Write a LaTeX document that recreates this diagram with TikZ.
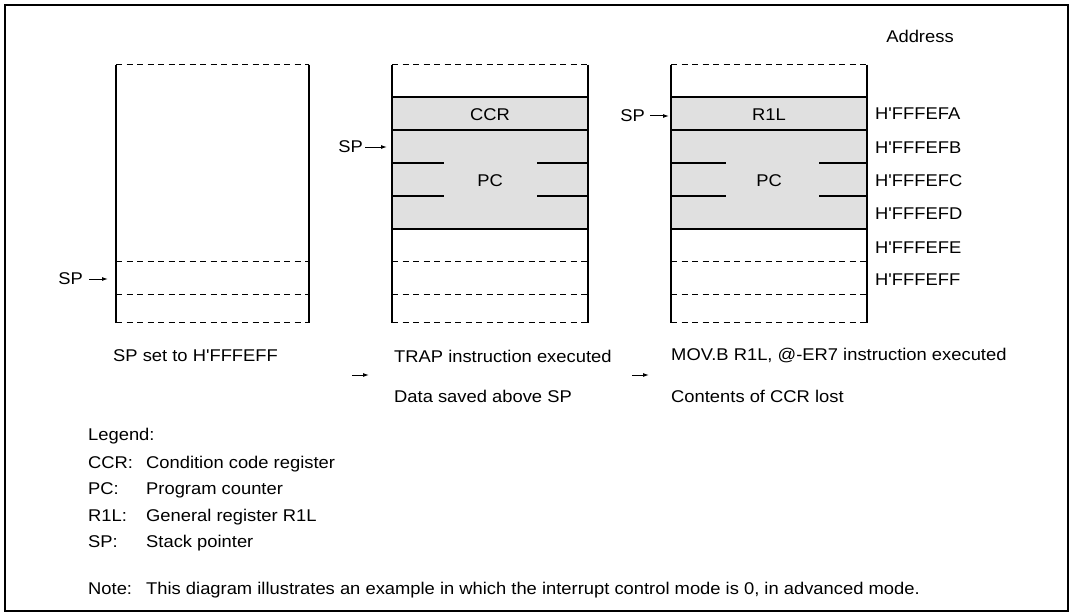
\documentclass[tikz,border=0pt]{standalone}
\usepackage{fontspec}
\setmainfont{Liberation Sans}[Ligatures=TeXOff, FakeStretch=1.08]
\usetikzlibrary{arrows.meta}
\begin{document}
\begin{tikzpicture}[x=1pt,y=-1pt,
  txt/.style={inner sep=0pt, font=\fontsize{17}{20}\selectfont},
  side/.style={line width=2.6pt},
  rowline/.style={line width=1.2pt},
  dsh/.style={line width=1pt, dash pattern=on 6pt off 4.5pt},
  frm/.style={line width=2pt},
  ptr/.style={line width=1pt, -{Latex[length=6pt,width=4pt]}},
  cell/.style={fill=black!12}]
\useasboundingbox (0,0) rectangle (1073,615);
\draw[frm] (5,5) rectangle (1068,611);

% common parts of the three stacks
\foreach \L/\R in {116/309,392/588,671/867}{
  \draw[dsh] (\L,64.7) -- (\R,64.7);
  \draw[dsh] (\L,261) -- (\R,261);
  \draw[dsh] (\L,294) -- (\R,294);
  \draw[dsh] (\L,322.7) -- (\R,322.7);
}
% filled cells of stacks 2 and 3
\foreach \L/\R/\a/\b in {392/588/444/537,671/867/726/819}{
  \fill[cell] (\L,97) rectangle (\R,229);
  \draw[rowline] (\L,97) -- (\R,97);
  \draw[rowline] (\L,130) -- (\R,130);
  \draw[rowline] (\L,229) -- (\R,229);
  \draw[rowline] (\L,163) -- (\a,163);
  \draw[rowline] (\b,163) -- (\R,163);
  \draw[rowline] (\L,196) -- (\a,196);
  \draw[rowline] (\b,196) -- (\R,196);
}
\foreach \L/\R in {116/309,392/588,671/867}{
  \draw[side] (\L,64.7) -- (\L,322.7);
  \draw[side] (\R,64.7) -- (\R,322.7);
}

% cell labels
\node[txt] (ccr) at (490,115) {CCR};
\node[txt] (pc2) at (490,181) {PC};
\node[txt] (r1l) at (769,115) {R1L};
\node[txt] (pc3) at (769,181) {PC};

% stack pointers
\node[txt, anchor=east] (sp1) at (83,279) {SP};
\coordinate (sp1t) at (108,279);
\draw[ptr, shorten <=6pt] (sp1.east) -- (sp1t);
\node[txt, anchor=east] (sp2) at (363,147) {SP};
\coordinate (sp2t) at (387,147);
\draw[ptr, shorten <=2pt] (sp2.east) -- (sp2t);
\node[txt, anchor=east] (sp3) at (645,116) {SP};
\coordinate (sp3t) at (669,116);
\draw[ptr, shorten <=5pt] (sp3.east) -- (sp3t);

% addresses
\node[txt] (addr) at (920,36) {Address};
\node[txt, anchor=west] (a1) at (875,114) {H'FFFEFA};
\node[txt, anchor=west] (a2) at (875,148) {H'FFFEFB};
\node[txt, anchor=west] (a3) at (875,181) {H'FFFEFC};
\node[txt, anchor=west] (a4) at (875,214) {H'FFFEFD};
\node[txt, anchor=west] (a5) at (875,248) {H'FFFEFE};
\node[txt, anchor=west] (a6) at (875,280) {H'FFFEFF};

% captions
\node[txt, anchor=west] (c1) at (113,356) {SP set to H'FFFEFF};
\node[txt, anchor=west] (c2a) at (394,356) {TRAP instruction executed};
\node[txt, anchor=west] (c2b) at (394,396) {Data saved above SP};
\node[txt, anchor=west] (c3a) at (671,356) {MOV.B R1L, @-ER7 instruction executed};
\node[txt, anchor=west] (c3b) at (671,396) {Contents of CCR lost};
\coordinate (s1) at (352,375);
\coordinate (e1) at (369,375);
\coordinate (s2) at (632,375);
\coordinate (e2) at (649,375);
\draw[ptr] (s1) -- (e1);
\draw[ptr] (s2) -- (e2);

% legend
\node[txt, anchor=west] (lg) at (88,436) {Legend:};
\node[txt, anchor=west] (l1) at (88,464) {\makebox[58pt][l]{CCR:}Condition code register};
\node[txt, anchor=west] (l2) at (88,490) {\makebox[58pt][l]{PC:}Program counter};
\node[txt, anchor=west] (l3) at (88,517) {\makebox[58pt][l]{R1L:}General register R1L};
\node[txt, anchor=west] (l4) at (88,543) {\makebox[58pt][l]{SP:}Stack pointer};
\node[txt, anchor=west] (nt) at (88,590) {\makebox[58pt][l]{Note:}This diagram illustrates an example in which the interrupt control mode is 0, in advanced mode.};
\end{tikzpicture}
\end{document}
